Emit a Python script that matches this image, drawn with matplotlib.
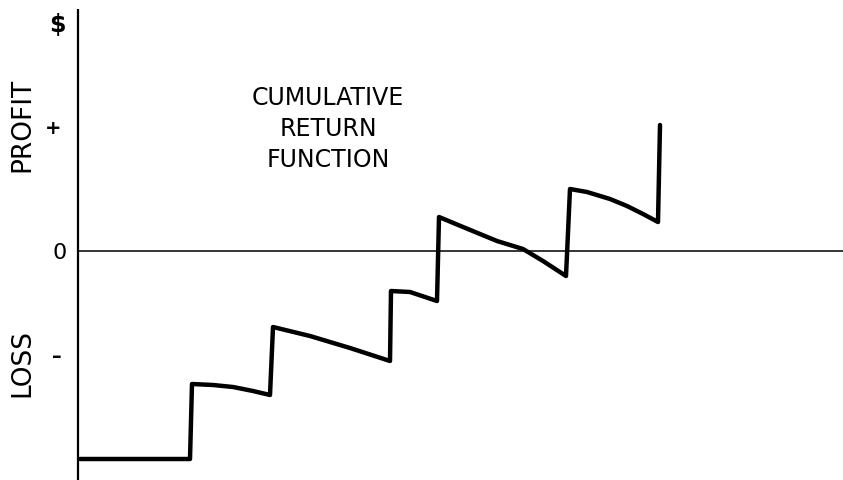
import matplotlib
matplotlib.use("Agg")
import matplotlib.pyplot as plt

# Cumulative return function (time units, dollar units; 0 = break-even)
t = [0.02, 1.12, 1.14, 1.35, 1.55, 1.75, 1.92,
     1.95, 2.32, 2.72, 3.12,
     3.13, 3.32, 3.59,
     3.61, 3.85, 4.19, 4.45, 4.65, 4.88,
     4.92, 5.09, 5.32, 5.49, 5.65, 5.80, 5.82]
cum_return = [-2.08, -2.08, -1.33, -1.34, -1.36, -1.40, -1.44,
              -0.76, -0.85, -0.97, -1.10,
              -0.40, -0.41, -0.50,
              0.34, 0.24, 0.10, 0.02, -0.10, -0.25,
              0.62, 0.59, 0.52, 0.45, 0.37, 0.29, 1.26]

tick_labels = {"+": 1.24, "0": -0.01, "-": -1.05}
title_lines = "CUMULATIVE\nRETURN\nFUNCTION"

fig = plt.figure(figsize=(8.43, 4.81), dpi=100)
ax = fig.add_axes([0, 0, 1, 1])
ax.set_xlim(-0.78, 7.65)
ax.set_ylim(-2.29, 2.52)
ax.axis("off")

# axes lines
ax.plot([0, 0], [-2.29, 2.42], color="black", lw=1.6, solid_capstyle="butt")
ax.plot([0, 7.65], [0, 0], color="black", lw=1.1)

# curve
ax.plot(t, cum_return, color="black", lw=3.2, solid_joinstyle="round",
        solid_capstyle="round")

# labels
ax.text(-0.21, 2.27, "$", fontsize=17, fontweight="bold", ha="center", va="center")
ax.text(-0.56, 1.27, "PROFIT", fontsize=19, rotation=90, ha="center", va="center")
ax.text(-0.56, -1.11, "LOSS", fontsize=19, rotation=90, ha="center", va="center")
ax.text(-0.25, tick_labels["+"], "+", fontsize=14, fontweight="bold", ha="center", va="center")
ax.text(-0.18, tick_labels["0"], "0", fontsize=16, ha="center", va="center")
ax.text(-0.21, tick_labels["-"], "\u2013", fontsize=14, fontweight="bold", ha="center", va="center")
ax.text(2.50, 1.23, title_lines, fontsize=17, ha="center", va="center",
        linespacing=1.35, multialignment="center")

fig.savefig("out.png", dpi=100)
